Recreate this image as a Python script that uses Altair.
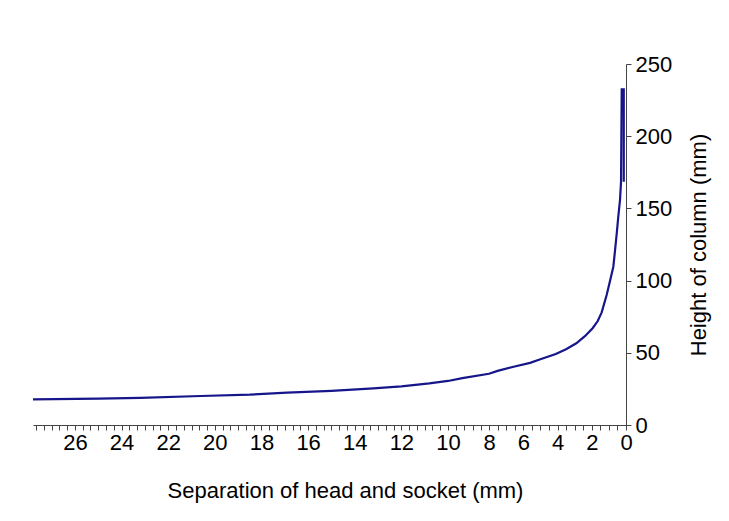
import altair as alt
import pandas as pd

# Separation of head and socket (mm) and height of column (mm)
separation = [27.8, 25.0, 23.2, 20.6, 18.5, 16.9, 15.0, 13.2, 12.0, 10.8, 10.0, 9.3,
              8.0, 7.5, 6.5, 5.6, 5.0, 4.1, 3.5, 2.9, 2.4, 1.95, 1.65, 1.42, 1.13, 0.92,
              0.74, 0.64, 0.54, 0.45, 0.35, 0.29, 0.25, 0.13, 0.13]
height = [17.8, 18.2, 18.8, 20.1, 21.0, 22.4, 23.7, 25.4, 26.8, 28.8, 30.5, 32.5,
          35.5, 37.5, 40.5, 43.0, 45.5, 49.2, 52.5, 56.6, 61.5, 67.0, 72.0, 78.0, 90.0, 100.4,
          109.6, 121.0, 132.8, 144.3, 155.8, 168.5, 232.5, 232.5, 168.5]

# axis tick marks (labels only on even whole numbers)
x_ticks = ([round(27.667 - k / 3, 3) for k in range(53)] +
           [10.0, 9.6, 9.2, 8.8, 8.4] +
           [8.0 - 0.5 * k for k in range(17)])
y_ticks = [0, 50, 100, 150, 200, 250]

df = pd.DataFrame({"sep": separation, "h": height, "i": list(range(len(height)))})

FONT = "Liberation Sans"
FS = 22

chart = alt.Chart(df).mark_line(color="#16168a", strokeWidth=2.2).encode(
    x=alt.X("sep:Q",
            scale=alt.Scale(domain=[27.8, 10, 8, 0], range=[0, 415, 456, 593],
                            nice=False, zero=False, clamp=True),
            axis=alt.Axis(title="Separation of head and socket (mm)",
                          values=x_ticks,
                          labelExpr="abs(datum.value - round(datum.value)) < 0.01 && round(datum.value) % 2 == 0 && round(datum.value) <= 26 ? '' + round(datum.value) : ''",
                          labelOverlap=False, labelFlush=False,
                          tickSize=5, tickColor="#444", domainColor="#444",
                          labelFontSize=FS, titleFontSize=FS, labelColor="black",
                          titleColor="black", labelFont=FONT, titleFont=FONT,
                          titleFontWeight="normal", labelPadding=2, titlePadding=27,
                          titleX=312, grid=False)),
    y=alt.Y("h:Q",
            scale=alt.Scale(domain=[0, 250], nice=False, zero=True),
            axis=alt.Axis(title="Height of column (mm)", orient="right",
                          values=y_ticks, tickSize=5, tickColor="#444",
                          domainColor="#444", labelFontSize=FS, titleFontSize=FS,
                          labelColor="black", titleColor="black", labelFont=FONT,
                          titleFont=FONT, titleFontWeight="normal", labelPadding=4,
                          titleAngle=270, titleBaseline="top",
                          titlePadding=17, grid=False)),
    order="i:Q",
).properties(
    width=593, height=361,
    background="white",
    padding={"left": 25, "top": 56, "right": 90, "bottom": 90},
    autosize=alt.AutoSizeParams(type="none"),
).configure_view(stroke=None, strokeWidth=0)

chart.save("out.html", embed_options={"renderer": "svg", "actions": False})
